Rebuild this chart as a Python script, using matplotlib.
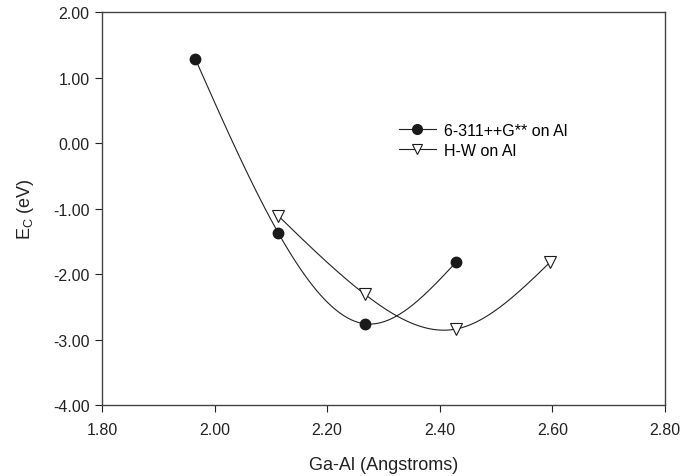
import numpy as np
import matplotlib
matplotlib.use("Agg")
import matplotlib.pyplot as plt

plt.rcParams['font.family'] = ['Liberation Sans', 'DejaVu Sans']

# Data
x_631 = [1.966, 2.113, 2.267, 2.429]
y_631 = [1.28, -1.37, -2.76, -1.82]
x_hw = [2.113, 2.267, 2.429, 2.596]
y_hw = [-1.11, -2.31, -2.84, -1.82]
label_631 = "6-311++G** on Al"
label_hw = "H-W on Al"
xticks = [1.80, 2.00, 2.20, 2.40, 2.60, 2.80]
yticks = [2.00, 1.00, 0.00, -1.00, -2.00, -3.00, -4.00]


def natural_spline(x, y, n=200):
    x = np.asarray(x, float); y = np.asarray(y, float)
    m = len(x)
    h = np.diff(x)
    A = np.zeros((m, m)); b = np.zeros(m)
    A[0, 0] = 1; A[-1, -1] = 1
    for i in range(1, m - 1):
        A[i, i - 1] = h[i - 1]
        A[i, i] = 2 * (h[i - 1] + h[i])
        A[i, i + 1] = h[i]
        b[i] = 3 * ((y[i + 1] - y[i]) / h[i] - (y[i] - y[i - 1]) / h[i - 1])
    c = np.linalg.solve(A, b)
    xs = np.linspace(x[0], x[-1], n)
    ys = np.empty_like(xs)
    for k, xv in enumerate(xs):
        i = min(np.searchsorted(x, xv, side='right') - 1, m - 2)
        i = max(i, 0)
        dx = xv - x[i]
        bi = (y[i + 1] - y[i]) / h[i] - h[i] * (2 * c[i] + c[i + 1]) / 3
        di = (c[i + 1] - c[i]) / (3 * h[i])
        ys[k] = y[i] + bi * dx + c[i] * dx ** 2 + di * dx ** 3
    return xs, ys


fig = plt.figure(figsize=(6.97, 4.77), dpi=100)
ax = fig.add_axes([0.1463, 0.1488, 0.954 - 0.1463, 0.9727 - 0.1488])

lc = '#222222'
xs, ys = natural_spline(x_631, y_631)
ax.plot(xs, ys, color=lc, lw=0.8)
xs, ys = natural_spline(x_hw, y_hw)
ax.plot(xs, ys, color=lc, lw=0.8)

ax.plot(x_631, y_631, 'o', color='#1a1a1a', ms=7.5, zorder=3)
ax.plot(x_hw, y_hw, 'v', mfc='white', mec='#1a1a1a', mew=0.8, ms=8, zorder=3)

# legend proxies
h1, = ax.plot([], [], '-o', color=lc, lw=0.8, ms=7, mfc='#1a1a1a', mec='#1a1a1a')
h2, = ax.plot([], [], '-v', color=lc, lw=0.8, ms=7, mfc='white', mec='#1a1a1a', mew=0.8)
ax.legend([h1, h2], [label_631, label_hw], loc='center left',
          bbox_to_anchor=(0.502, 0.674), frameon=False, fontsize=11.5,
          handlelength=2.3, handletextpad=0.5, labelspacing=0.3)

ax.set_xlim(1.80, 2.80)
ax.set_ylim(-4.0, 2.0)
ax.set_xticks(xticks)
ax.set_yticks(yticks)
ax.set_xticklabels([f"{v:.2f}" for v in xticks])
ax.set_yticklabels([f"{v:.2f}" for v in yticks])
ax.tick_params(direction='out', length=5, width=0.8, labelsize=11.5,
               colors='#222222', top=False, right=False, pad=4)
ax.tick_params(axis='x', pad=7)
for s in ax.spines.values():
    s.set_linewidth(1.0)
    s.set_color('#444444')

ax.set_xlabel("Ga-Al (Angstroms)", fontsize=13, labelpad=14, color='#222222')
ax.set_ylabel(r"E$_\mathregular{C}$ (eV)", fontsize=13, labelpad=12, color='#222222')

fig.savefig("out.png", dpi=100)
